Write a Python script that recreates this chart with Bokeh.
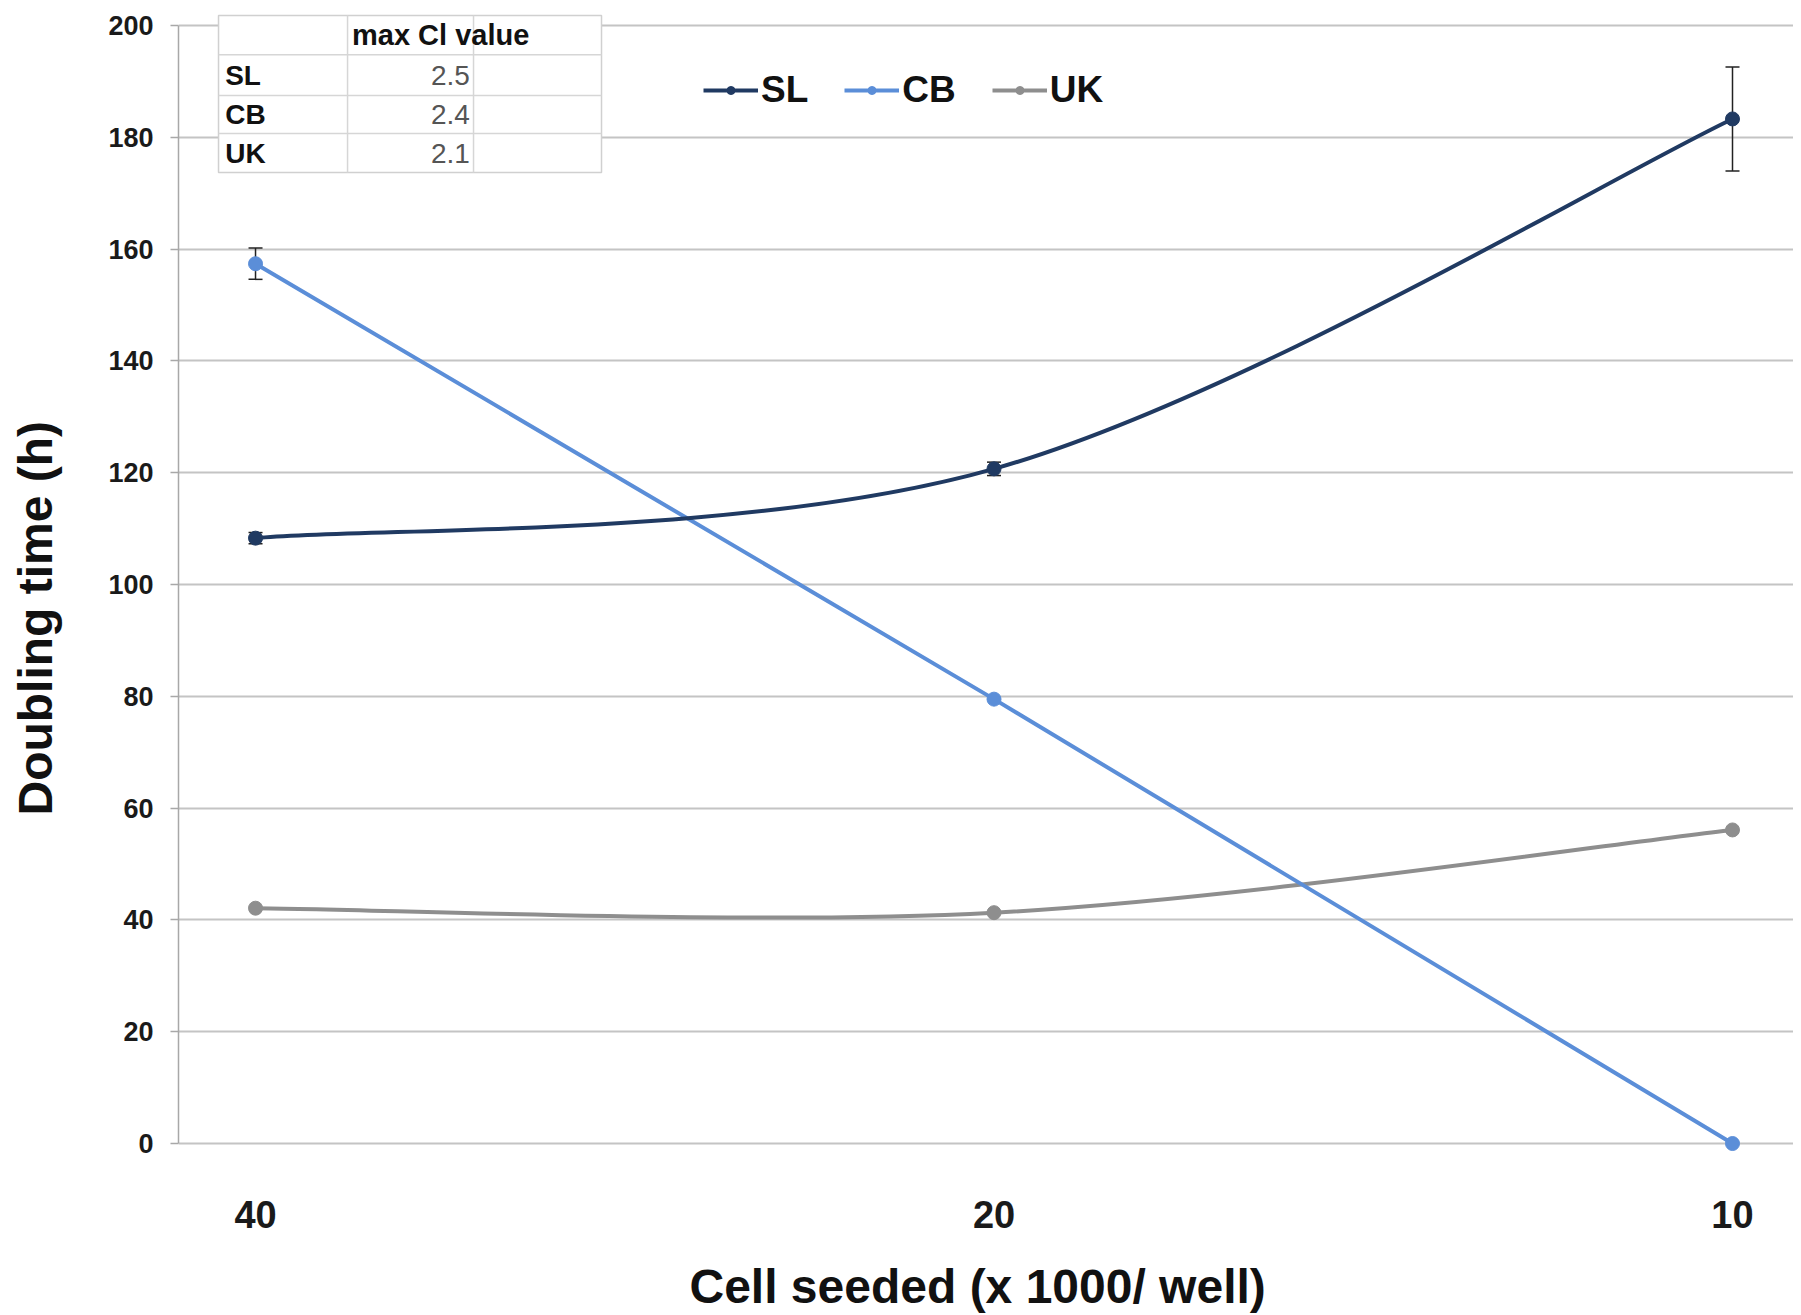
from bokeh.plotting import figure
from bokeh.models import (ColumnDataSource, Range1d, FixedTicker, Whisker, TeeHead,
                          Legend, LegendItem, Label, Title)
from bokeh.embed import file_html
from bokeh.resources import INLINE

# ---------------- data ----------------
categories = ["40", "20", "10"]          # cells seeded (x 1000 / well)
xpos = [0, 1, 2]
sl = [108.3, 120.7, 183.3]
sl_err = [1.0, 1.2, 9.3]
cb = [157.4, 79.5, 0.0]
cb_err = [2.8, 0.0, 0.0]
uk = [42.1, 41.3, 56.1]
uk_err = [0.0, 0.0, 0.0]
series_names = ["SL", "CB", "UK"]
table_header = "max Cl value"
table_values = ["2.5", "2.4", "2.1"]
y_ticks = list(range(0, 201, 20))

# ---------------- style ----------------
FONT = "Liberation Sans"
C_SL = "#203a62"
C_CB = "#5b8ed8"
C_UK = "#8e8e8e"
GRID = "#c4c4c4"

p = figure(width=1793, height=1313, output_backend="svg", toolbar_location=None,
           x_range=Range1d(-0.1043, 2.0826), y_range=Range1d(-2.5, 202.7),
           min_border_left=178, min_border_right=0, min_border_top=10, min_border_bottom=156)
p.outline_line_color = None
p.background_fill_color = "white"
p.border_fill_color = "white"

# grid
p.xgrid.grid_line_color = None
p.ygrid.grid_line_color = GRID
p.ygrid.grid_line_width = 2
p.ygrid.ticker = FixedTicker(ticks=y_ticks)

# y axis
p.yaxis.ticker = FixedTicker(ticks=y_ticks)
p.yaxis.bounds = (0, 200)
p.yaxis.axis_line_color = "#a8a8a8"
p.yaxis.axis_line_width = 1.5
p.yaxis.major_tick_line_color = "#a8a8a8"
p.yaxis.major_tick_line_width = 1.5
p.yaxis.major_tick_out = 8
p.yaxis.major_tick_in = 0
p.yaxis.minor_tick_line_color = None
p.yaxis.major_label_standoff = 17
p.yaxis.major_label_text_font = FONT
p.yaxis.major_label_text_font_style = "bold"
p.yaxis.major_label_text_font_size = "27px"
p.yaxis.major_label_text_color = "#1a1a1a"

# y axis title (sits lower than the frame centre, as in the original);
# a blank spacer panel keeps it away from the tick labels
p.add_layout(Title(text=" ", standoff=41, text_font_size="1px"), "left")
p.add_layout(Title(text="Doubling time (h)", align="left", offset=342, standoff=0,
                   text_font=FONT, text_font_style="bold", text_font_size="48px",
                   text_color="#111111"), "left")

# x axis
p.xaxis.ticker = FixedTicker(ticks=xpos)
p.xaxis.major_label_overrides = {x: c for x, c in zip(xpos, categories)}
p.xaxis.axis_line_color = None
p.xaxis.major_tick_line_color = None
p.xaxis.minor_tick_line_color = None
p.xaxis.major_tick_out = 0
p.xaxis.major_tick_in = 0
p.xaxis.major_label_standoff = 43
p.xaxis.major_label_text_font = FONT
p.xaxis.major_label_text_font_style = "bold"
p.xaxis.major_label_text_font_size = "38px"
p.xaxis.major_label_text_color = "#1a1a1a"
p.add_layout(Title(text=" ", standoff=24, text_font_size="1px"), "below")
p.add_layout(Title(text="Cell seeded (x 1000/ well)", align="left", offset=511, standoff=0,
                   text_font=FONT, text_font_style="bold", text_font_size="48px",
                   text_color="#111111"), "below")


def smooth_segments(xs, ys):
    """Excel-style smoothed line: cubic Bezier control points through the data points."""
    n = len(xs)
    d = dict(x0=[], y0=[], x1=[], y1=[], cx0=[], cy0=[], cx1=[], cy1=[])
    for i in range(n - 1):
        a = i - 1 if i > 0 else i
        b = i + 2 if i + 2 < n else i + 1
        d["x0"].append(xs[i]); d["y0"].append(ys[i])
        d["x1"].append(xs[i + 1]); d["y1"].append(ys[i + 1])
        d["cx0"].append(xs[i] + (xs[i + 1] - xs[a]) / 6.0)
        d["cy0"].append(ys[i] + (ys[i + 1] - ys[a]) / 6.0)
        d["cx1"].append(xs[i + 1] - (xs[b] - xs[i]) / 6.0)
        d["cy1"].append(ys[i + 1] - (ys[b] - ys[i]) / 6.0)
    return ColumnDataSource(d)


legend_items = []
for name, vals, errs, color, smooth in [("UK", uk, uk_err, C_UK, True),
                                         ("CB", cb, cb_err, C_CB, False),
                                         ("SL", sl, sl_err, C_SL, True)]:
    src = ColumnDataSource(dict(x=xpos, y=vals))
    if smooth:
        p.bezier(x0="x0", y0="y0", x1="x1", y1="y1", cx0="cx0", cy0="cy0", cx1="cx1", cy1="cy1",
                 source=smooth_segments(xpos, vals), line_color=color, line_width=4)
        proxy = p.line(x="x", y="y", source=src, line_color=color, line_width=4, visible=False)
    else:
        proxy = p.line(x="x", y="y", source=src, line_color=color, line_width=4)
    pts = [i for i, e in enumerate(errs) if e > 0]
    if pts:
        esrc = ColumnDataSource(dict(base=[xpos[i] for i in pts],
                                     upper=[vals[i] + errs[i] for i in pts],
                                     lower=[vals[i] - errs[i] for i in pts]))
        w = Whisker(base="base", upper="upper", lower="lower", source=esrc, dimension="height",
                    line_color="#222222", line_width=1.5,
                    upper_head=TeeHead(size=14, line_color="#222222", line_width=1.5),
                    lower_head=TeeHead(size=14, line_color="#222222", line_width=1.5))
        p.add_layout(w)
    sc = p.scatter(x="x", y="y", source=src, size=14, fill_color=color, line_color=color)
    legend_items.append((name, [proxy, sc]))

order = {n: i for i, n in enumerate(series_names)}
legend_items.sort(key=lambda t: order[t[0]])
legend = Legend(items=[LegendItem(label=n, renderers=r) for n, r in legend_items],
                orientation="horizontal", location=(525, 1046), click_policy="none",
                background_fill_alpha=0, border_line_color=None, padding=0, margin=0,
                spacing=36, label_standoff=3, glyph_width=55, glyph_height=20,
                label_text_font=FONT, label_text_font_style="bold",
                label_text_font_size="37px", label_text_color="#111111",
                label_height=36)
p.add_layout(legend, "center")

# ---------------- inset table (annotation) ----------------
col_edges = [-0.0501, 0.1246, 0.2952, 0.4685]
row_edges = [201.8, 194.8, 187.5, 180.7, 173.7]
p.quad(left=[col_edges[0]], right=[col_edges[-1]], top=[row_edges[0]], bottom=[row_edges[-1]],
       fill_color="white", line_color="#d0d0d0", line_width=1.5, level="overlay")
p.segment(x0=[col_edges[0]] * 3, x1=[col_edges[-1]] * 3, y0=row_edges[1:4], y1=row_edges[1:4],
          line_color="#d6d6d6", line_width=1.5, level="overlay")
p.segment(x0=col_edges[1:3], x1=col_edges[1:3], y0=[row_edges[0]] * 2, y1=[row_edges[-1]] * 2,
          line_color="#d6d6d6", line_width=1.5, level="overlay")

p.add_layout(Label(x=col_edges[1] + 0.006, y=(row_edges[0] + row_edges[1]) / 2, text=table_header,
                   text_font=FONT, text_font_style="bold", text_font_size="29px",
                   text_color="#111111", text_baseline="middle", level="overlay"))
for i, (n, v) in enumerate(zip(series_names, table_values)):
    yc = (row_edges[i + 1] + row_edges[i + 2]) / 2
    p.add_layout(Label(x=col_edges[0] + 0.009, y=yc, text=n, text_font=FONT,
                       text_font_style="bold", text_font_size="28px", text_color="#111111",
                       text_baseline="middle", level="overlay"))
    p.add_layout(Label(x=col_edges[2] - 0.005, y=yc, text=v, text_font=FONT,
                       text_font_size="28px", text_color="#555555", text_align="right",
                       text_baseline="middle", level="overlay"))

open("out.html", "w").write(file_html(p, INLINE))
